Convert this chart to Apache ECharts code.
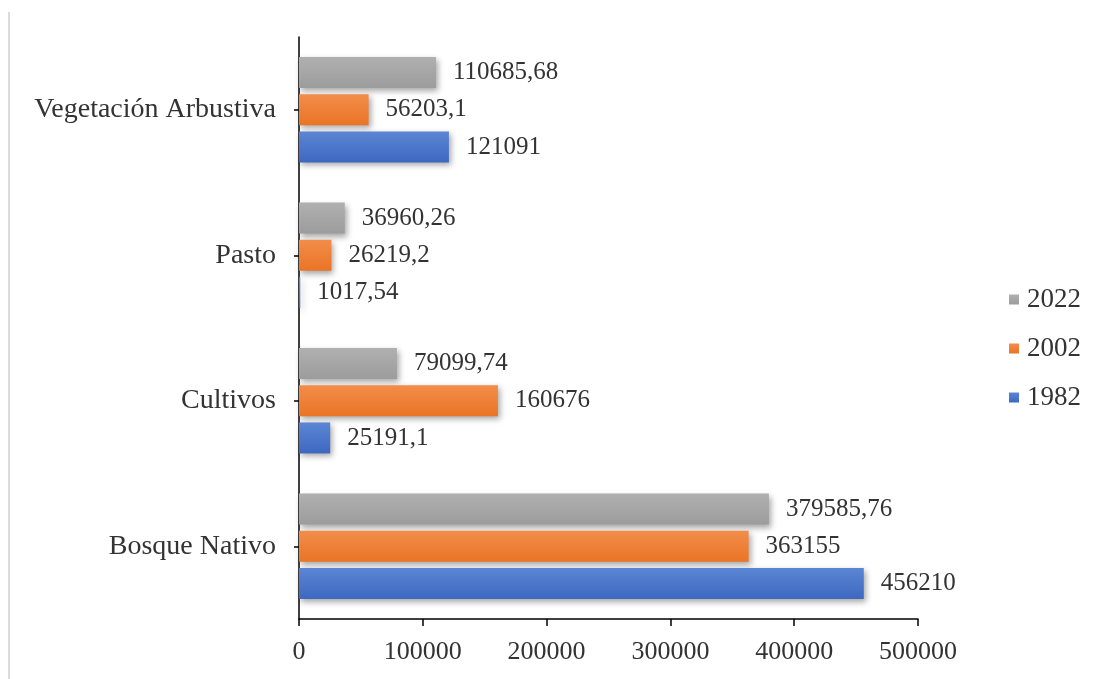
<!DOCTYPE html>
<html>
<head>
<meta charset="utf-8">
<script src="https://cdn.jsdelivr.net/npm/echarts@6/dist/echarts.min.js"></script>
<style>
  html, body { margin: 0; padding: 0; background: #fff; }
  #chart { width: 1105px; height: 679px; }
</style>
</head>
<body>
<div id="chart"></div>
<script>
// Land cover categories (bottom to top) and area per year
const categories = ['Bosque Nativo', 'Cultivos', 'Pasto', 'Vegetación Arbustiva'];
const years = ['2022', '2002', '1982'];
const values2022 = [379585.76, 79099.74, 36960.26, 110685.68];
const values2002 = [363155, 160676, 26219.2, 56203.1];
const values1982 = [456210, 25191.1, 1017.54, 121091];
const xTicks = { min: 0, max: 500000, interval: 100000 };

const FONT = '"Liberation Serif", "DejaVu Serif", serif';
const palette = {
  '1982': ['#5b86d4', '#3d68c0'],
  '2002': ['#f28d4a', '#ea7425'],
  '2022': ['#b0b0b0', '#9c9c9c']
};

function makeSeries(name, data) {
  const c = palette[name];
  return {
    name: name,
    type: 'bar',
    data: data,
    barWidth: 31,
    barGap: '20%',
    itemStyle: {
      color: new echarts.graphic.LinearGradient(0, 0, 0, 1, [
        { offset: 0, color: c[0] },
        { offset: 1, color: c[1] }
      ]),
      shadowColor: 'rgba(0,0,0,0.35)',
      shadowBlur: 6,
      shadowOffsetX: 2,
      shadowOffsetY: 3
    },
    label: {
      show: true,
      position: 'right',
      distance: 17,
      fontFamily: FONT,
      fontSize: 25,
      color: '#333',
      formatter: p => String(p.value).replace('.', ',')
    }
  };
}

const chart = echarts.init(document.getElementById('chart'), null, { renderer: 'canvas' });
chart.setOption({
  animation: false,
  backgroundColor: '#fff',
  grid: { left: 299, right: 187, top: 37, bottom: 60 },
  legend: {
    data: ['2022', '2002', '1982'],
    orient: 'vertical',
    left: 1004,
    top: 281,
    icon: 'rect',
    itemWidth: 10,
    itemHeight: 10,
    itemGap: 22,
    textStyle: { fontFamily: FONT, fontSize: 27, color: '#333', padding: [0, 0, 0, 3] }
  },
  xAxis: {
    type: 'value',
    min: xTicks.min,
    max: xTicks.max,
    interval: xTicks.interval,
    axisLine: { show: true, lineStyle: { color: '#000', width: 1.5 } },
    axisTick: { show: true, length: 7, lineStyle: { color: '#000', width: 1.5 } },
    splitLine: { show: false },
    axisLabel: {
      fontFamily: FONT, fontSize: 26, color: '#333', margin: 20,
      formatter: v => String(v)
    }
  },
  yAxis: {
    type: 'category',
    data: categories,
    axisLine: { show: true, lineStyle: { color: '#000', width: 1.5 } },
    axisTick: { show: true, alignWithLabel: true, length: 5, lineStyle: { color: '#000', width: 1.5 } },
    axisLabel: { fontFamily: FONT, fontSize: 28, color: '#333', margin: 23 }
  },
  graphic: [{
    type: 'line',
    shape: { x1: 9, y1: 12, x2: 9, y2: 679 },
    style: { stroke: '#cfcfcf', lineWidth: 1.5 }
  }],
  series: [
    makeSeries(years[0], values2022),
    makeSeries(years[1], values2002),
    makeSeries(years[2], values1982)
  ]
});
</script>
</body>
</html>
